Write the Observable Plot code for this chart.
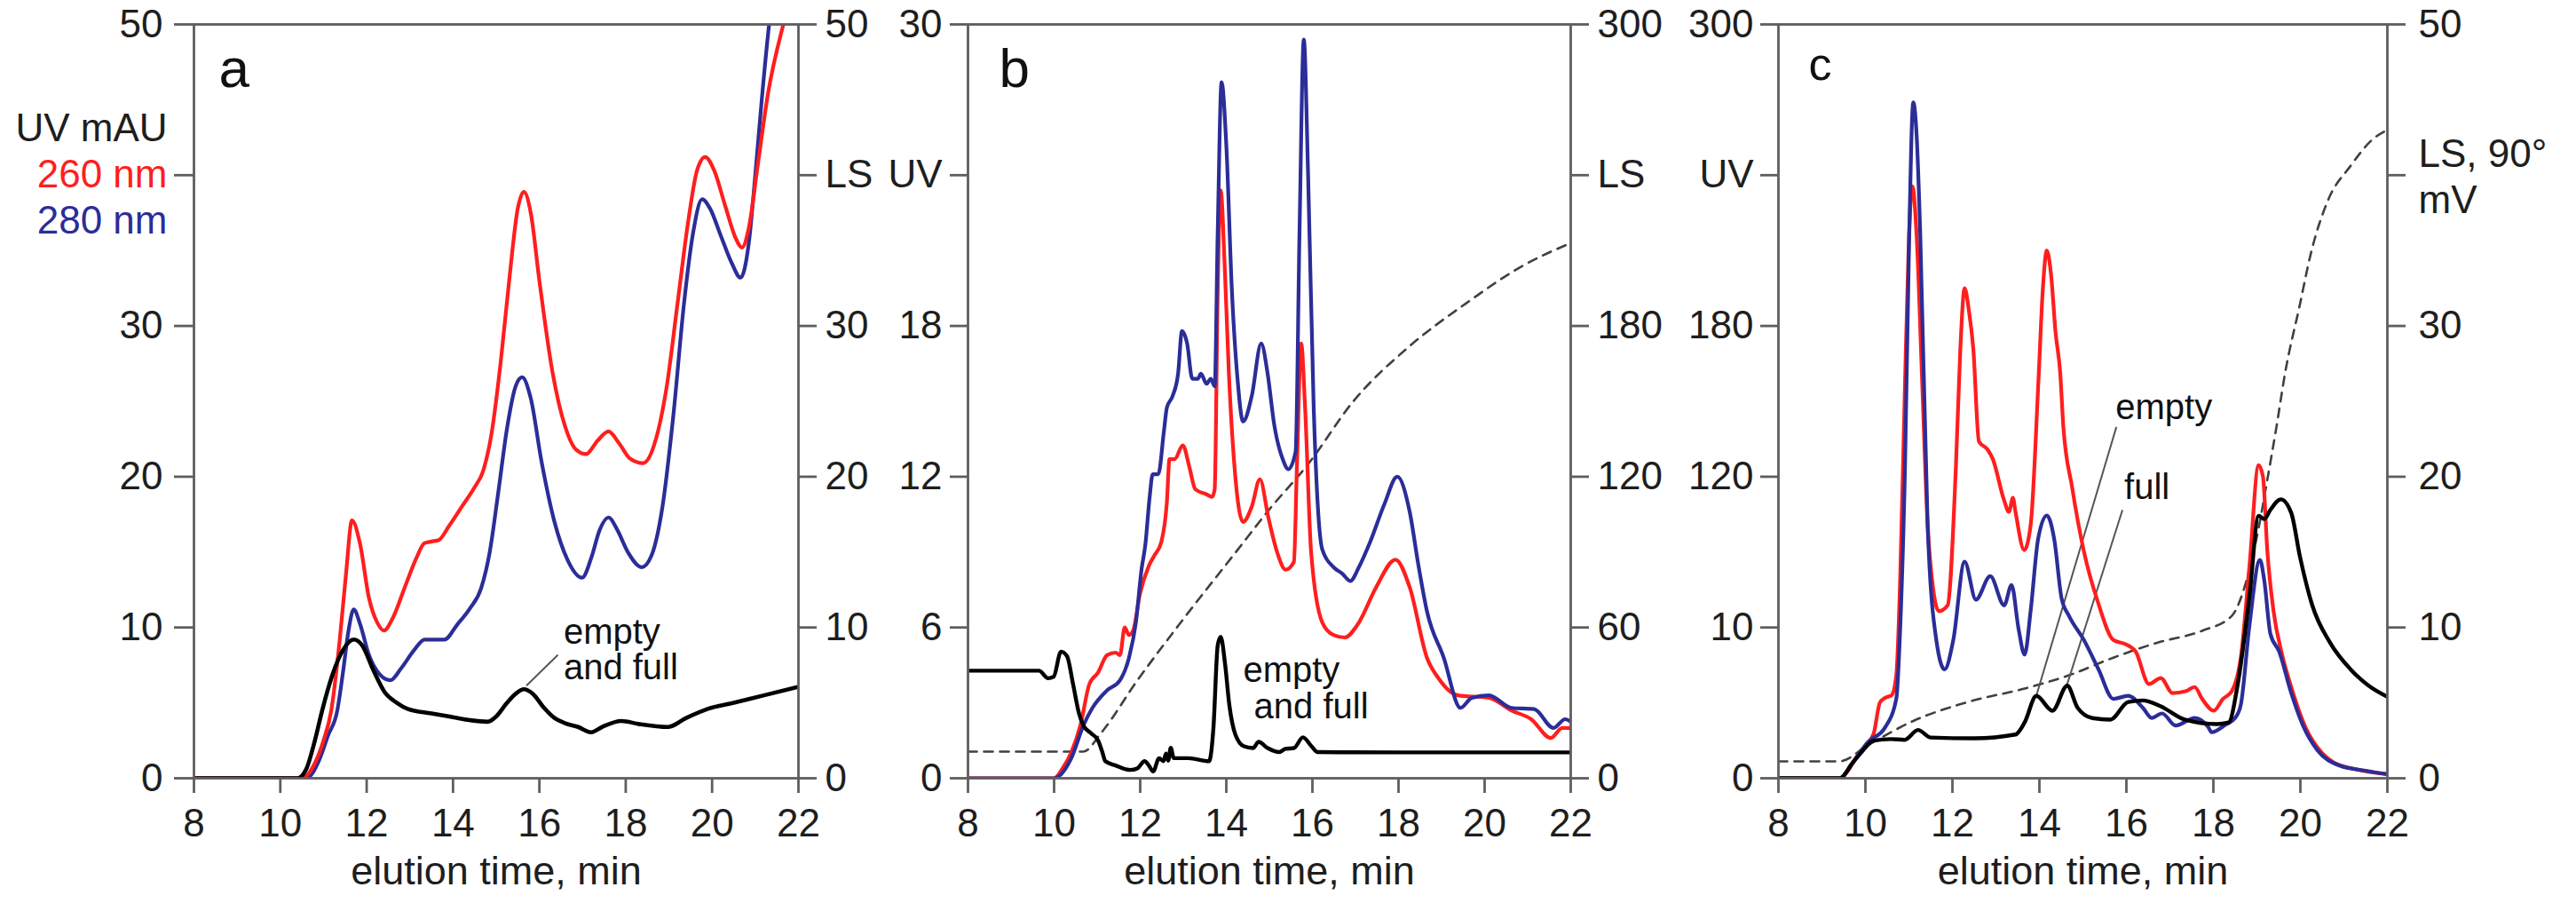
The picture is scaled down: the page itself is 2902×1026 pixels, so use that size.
<!DOCTYPE html>
<html><head><meta charset="utf-8">
<script src="https://cdn.jsdelivr.net/npm/d3@7"></script>
<script src="https://cdn.jsdelivr.net/npm/@observablehq/plot@0.6"></script>
<style>
body{margin:0;background:#fff;}
#wrap{position:relative;width:2902px;height:1026px;overflow:hidden;background:#fff;}
#wrap svg{position:absolute;top:0;}
</style></head><body><div id="wrap"></div>
<script>
// ---------- shared ticks ----------
const xTicks = [8, 10, 12, 14, 16, 18, 20, 22];

// ---------- panel a (UV mAU, LS same 0-50 scale) ----------
const aTicks = [0, 10, 20, 30, 40, 50];
const a260 = [[8,0],[10.5,0],[10.8,1],[11.0,2.5],[11.18,4.5],[11.37,9],[11.52,13.5],[11.66,17.1],[11.85,15.5],[12.05,12],[12.25,10.3],[12.4,9.8],[12.6,10.6],[12.9,12.8],[13.15,14.6],[13.34,15.6],[13.5,15.7],[13.67,15.8],[13.9,16.7],[14.2,18],[14.5,19.3],[14.7,20.4],[14.9,23],[15.1,27.5],[15.3,33],[15.5,37.8],[15.64,38.9],[15.8,37.5],[16.0,33],[16.3,27],[16.6,23.3],[16.85,21.8],[17.08,21.5],[17.35,22.4],[17.6,23],[17.85,22.2],[18.1,21.2],[18.4,20.9],[18.7,22.5],[18.95,26],[19.2,31.5],[19.45,37],[19.65,40.3],[19.84,41.2],[20.05,40.3],[20.3,38],[20.55,35.8],[20.69,35.2],[20.85,36.5],[21.05,40.5],[21.3,45.5],[21.65,50],[22,53.5]];
const a280 = [[8,0],[10.6,0],[10.9,1.2],[11.1,2.8],[11.32,4.5],[11.45,7],[11.58,9.8],[11.7,11.2],[11.85,10.2],[12.05,8.2],[12.3,6.9],[12.55,6.5],[12.8,7.3],[13.1,8.5],[13.34,9.2],[13.8,9.2],[14.1,10.2],[14.4,11.3],[14.65,12.6],[14.85,15],[15.05,19],[15.25,23.2],[15.45,26],[15.6,26.6],[15.8,25.2],[16.05,21],[16.35,17],[16.65,14.5],[16.99,13.3],[17.2,14.6],[17.4,16.5],[17.6,17.3],[17.8,16.5],[18.05,15],[18.37,14],[18.6,14.8],[18.85,18],[19.1,24],[19.35,31.5],[19.55,36],[19.77,38.4],[19.95,37.8],[20.2,36],[20.45,34.2],[20.66,33.2],[20.85,35.5],[21.0,40],[21.15,45],[21.32,50],[21.6,56]];
const aLS = [[8,0],[10.4,0],[10.6,0.6],[10.8,2.5],[10.97,4.5],[11.2,6.8],[11.45,8.5],[11.7,9.2],[11.9,8.8],[12.15,7.2],[12.42,5.7],[12.7,5],[12.95,4.6],[13.5,4.3],[14.0,4.05],[14.4,3.85],[14.8,3.75],[15.0,4.1],[15.25,5.0],[15.45,5.6],[15.64,5.9],[15.85,5.6],[16.1,4.7],[16.35,4.0],[16.6,3.65],[16.9,3.4],[17.2,3.05],[17.45,3.4],[17.9,3.8],[18.3,3.6],[18.98,3.4],[19.4,4.0],[19.9,4.6],[20.5,5.0],[21.2,5.5],[22,6.06]];
const annotA = [{t:16.56, v:8.9, label:"empty"}, {t:16.56, v:6.54, label:"and full"}];
const leaderA = [{t1:15.70, v1:6.14, t2:16.43, v2:8.19}];

// ---------- panel b (UV 0-30, LS 0-300) ----------
const bTicks = [0, 6, 12, 18, 24, 30];
const b260 = [[8,0],[10.0,0],[10.2,0.4],[10.4,1.03],[10.61,2.1],[10.82,3.75],[11.02,4.2],[11.23,4.9],[11.43,5.0],[11.53,4.9],[11.64,6.0],[11.74,5.7],[11.84,5.9],[11.99,7.3],[12.2,8.45],[12.33,8.87],[12.49,9.4],[12.62,11],[12.68,12.7],[12.8,12.7],[12.99,13.25],[13.14,12.4],[13.28,11.5],[13.54,11.3],[13.67,11.2],[13.73,11.5],[13.8,19.4],[13.87,23.4],[13.96,20.5],[14.06,16.1],[14.19,12.4],[14.39,10.2],[14.59,10.8],[14.78,11.9],[14.98,10.35],[15.18,9.0],[15.38,8.3],[15.57,8.6],[15.64,12.4],[15.74,17.3],[15.83,14.75],[15.97,9.0],[16.23,6.2],[16.49,5.7],[16.75,5.6],[17.08,6.2],[17.48,7.6],[17.93,8.7],[18.26,7.6],[18.66,4.8],[18.92,4.0],[19.38,3.3],[20.1,3.2],[20.62,2.7],[21.08,2.35],[21.54,1.6],[21.8,2.0],[22,2.0]];
const b280 = [[8,0],[10.0,0],[10.4,0.8],[10.68,2.1],[10.89,2.8],[11.23,3.5],[11.53,3.9],[11.74,4.8],[11.9,6.2],[12.03,8.3],[12.12,9.3],[12.22,11.2],[12.29,12.1],[12.42,12.1],[12.55,13.8],[12.62,14.75],[12.75,15.2],[12.88,16.1],[12.97,17.8],[13.09,17.3],[13.21,15.9],[13.34,15.9],[13.41,16.1],[13.54,15.7],[13.64,15.9],[13.73,15.6],[13.8,21.7],[13.89,27.7],[14.0,25.2],[14.13,19.4],[14.26,15.9],[14.39,14.2],[14.59,15.2],[14.81,17.3],[14.96,16.1],[15.11,14.1],[15.31,12.7],[15.44,12.3],[15.61,13],[15.7,21.7],[15.8,29.4],[15.9,24],[16.03,14.75],[16.23,9.1],[16.49,8.4],[16.69,8.15],[16.88,7.85],[17.08,8.4],[17.34,9.4],[17.67,10.9],[17.97,12.0],[18.26,10.6],[18.46,8.5],[18.66,6.65],[19.05,4.8],[19.44,2.8],[19.7,3.2],[20.1,3.3],[20.62,2.8],[21.15,2.75],[21.6,2.0],[21.87,2.35],[22,2.25]];
const bLS = [[8,42.8],[9.65,42.8],[9.86,39.8],[9.99,40.4],[10.16,50.4],[10.3,48.6],[10.44,37.5],[10.58,25.7],[10.68,21],[10.85,18],[11.02,15.1],[11.12,10.4],[11.19,6.8],[11.43,5.1],[11.77,3.3],[11.94,4],[12.1,6.8],[12.2,5.1],[12.3,2.7],[12.44,8],[12.54,6.8],[12.6,9.8],[12.65,7],[12.71,12.1],[12.78,8],[13.12,8],[13.6,6.8],[13.7,19.8],[13.8,52.8],[13.87,56.3],[13.97,45.7],[14.07,29.2],[14.21,17.4],[14.41,12.7],[14.62,12],[14.75,14.5],[14.96,12],[15.23,10.4],[15.37,11.7],[15.57,12],[15.78,16.3],[15.98,12.7],[16.12,10.4],[18,10.3],[22,10.3]];
const bLSdash = [[8,10.6],[10.68,10.6],[11.09,18],[11.92,38.6],[12.95,62.2],[14.19,89.3],[15.0,107],[15.9,125],[16.95,150],[18.26,172],[19.57,189],[20.89,204],[22,213]];
const annotB = [{t:14.39, v:3.82, label:"empty"}, {t:14.64, v:2.4, label:"and full"}];

// ---------- panel c (UV 0-300, LS 0-50) ----------
const cTicks = [0, 60, 120, 180, 240, 300];
const c260 = [[8,0],[9.41,0],[9.6,3],[9.8,8.6],[10.0,13],[10.19,17.8],[10.33,30],[10.45,32],[10.6,33],[10.71,41],[10.8,80],[10.9,150],[11.0,215],[11.08,235.6],[11.18,215],[11.3,160],[11.43,101],[11.56,75],[11.69,66.5],[11.89,68.8],[12.08,124],[12.18,170],[12.28,195],[12.38,186],[12.48,171],[12.61,134],[12.8,131],[12.93,127],[13.19,110.5],[13.3,106],[13.39,111.6],[13.45,106],[13.65,90.8],[13.8,101],[13.98,159],[14.08,195],[14.17,210],[14.27,200],[14.37,177.7],[14.48,161],[14.55,140],[14.75,116],[15.02,90.5],[15.36,69.3],[15.7,55],[15.97,53.4],[16.21,50.5],[16.52,37.5],[16.79,39.9],[17.06,33.9],[17.36,34.6],[17.57,36.3],[17.74,31.6],[18.01,26.9],[18.22,31.6],[18.42,34.6],[18.63,48],[18.83,84.6],[19.04,124.6],[19.14,120],[19.24,90.5],[19.38,66.9],[19.58,49.2],[19.79,36.3],[20.13,19.8],[20.5,10],[20.76,6.3],[21.3,3.5],[22,1.6]];
const c280 = [[8,0],[9.41,0],[9.7,6],[10.06,14.4],[10.45,20.2],[10.71,31.7],[10.8,60],[10.91,124],[11.0,210],[11.1,269],[11.18,255],[11.26,217],[11.43,101],[11.63,55],[11.82,43.3],[12.02,55],[12.28,86.2],[12.54,71.1],[12.87,80.4],[13.19,68.8],[13.36,76.9],[13.52,59.5],[13.66,49.2],[13.8,66.9],[13.97,95.2],[14.17,104.6],[14.34,95.2],[14.51,71.6],[14.68,64.6],[15.02,55.1],[15.36,43.3],[15.7,31.6],[16.04,32.8],[16.38,28],[16.58,24],[16.82,25.8],[17.13,21],[17.57,24],[17.88,20.4],[17.96,18.3],[18.28,21.3],[18.5,24],[18.63,29.2],[18.83,61],[19.07,86.9],[19.17,78.7],[19.31,57.5],[19.51,50.5],[19.79,33.9],[20.06,21],[20.4,11],[20.89,5.1],[21.5,3],[22,1.6]];
const cLS = [[8,0],[9.41,0],[9.7,1.0],[9.93,1.8],[10.19,2.5],[10.58,2.6],[10.9,2.55],[11.21,3.2],[11.5,2.7],[12.5,2.65],[13.45,2.9],[13.66,3.7],[13.93,5.46],[14.3,4.48],[14.64,6.14],[14.88,4.67],[15.22,3.99],[15.63,3.89],[16.04,5.06],[16.38,5.16],[16.79,4.77],[17.34,3.89],[18.08,3.59],[18.35,3.7],[18.56,6.24],[18.83,12.1],[19.04,17.4],[19.17,17.2],[19.31,17.8],[19.55,18.5],[19.79,17.6],[19.99,14.7],[20.27,11.5],[20.68,9.0],[21.16,7.2],[21.57,6.14],[22,5.4]];
const cLSdash = [[8,1.12],[9.4,1.12],[10.06,2.2],[11.1,3.8],[12.41,5.1],[13.66,5.95],[14.68,6.83],[15.7,8.0],[16.72,9.0],[17.74,9.78],[18.42,10.76],[18.76,13.1],[19.04,16.6],[19.24,19.8],[19.45,23.3],[19.65,26.9],[19.98,31.3],[20.24,34.8],[20.63,38.3],[21.15,40.6],[21.67,42.4],[22,43]];
const annotC = [{t:15.75, v:142.8, label:"empty"}, {t:15.95, v:111, label:"full"}];
const leaderC = [{t1:15.77, ls1:23.3, t2:13.93, ls2:5.48}, {t1:15.91, ls1:17.8, t2:14.62, ls2:6.07}];

// ---------- styling ----------
const FONT = "'Liberation Sans', Arial, Helvetica, sans-serif";
const RED = "#ff1e1e", BLUE = "#2b2d98", AXIS = "#5e5e5e", INK = "#1e1e1e", DASH = "#404040";
const pts = arr => arr.map(([t, v]) => ({t, v}));
const wrap = document.getElementById("wrap");

function line(arr, stroke, extra = {}) {
  return Plot.line(pts(arr), {x: "t", y: "v", stroke, strokeWidth: 4.2, curve: "monotone-x", clip: true, strokeLinejoin: "round", ...extra});
}

function panel({left, width, ml, mr, yMax, yTicks, leftFmt, rightFmt, lPad, rPad, lSize, marks}) {
  const chart = Plot.plot({
    width, height: 1026,
    marginTop: 27, marginBottom: 150, marginLeft: ml, marginRight: mr,
    x: {domain: [8, 22], label: null},
    y: {domain: [0, yMax], label: null},
    style: {fontFamily: FONT, color: INK, background: "transparent", overflow: "visible"},
    marks: [
      ...marks,
      Plot.frame({stroke: AXIS, strokeWidth: 2.8}),
      Plot.axisX({ticks: xTicks, tickSize: 17, tickPadding: 17, fontSize: 44, stroke: AXIS, strokeWidth: 2.8, label: null}),
      Plot.axisY({anchor: "left", ticks: yTicks, tickSize: lSize, tickPadding: lPad, tickFormat: leftFmt, fontSize: 44, stroke: AXIS, strokeWidth: 2.8, label: null}),
      Plot.axisY({anchor: "right", ticks: yTicks, tickSize: 20, tickPadding: rPad, tickFormat: rightFmt, fontSize: 44, stroke: AXIS, strokeWidth: 2.8, label: null}),
      Plot.text(["elution time, min"], {frameAnchor: "bottom", dy: 119, lineAnchor: "bottom", fontSize: 45})
    ]
  });
  chart.style.left = left + "px";
  wrap.appendChild(chart);
}

// panel a
panel({
  left: 0, width: 1000, ml: 218, mr: 101, yMax: 50, yTicks: aTicks,
  leftFmt: d => d === 40 ? "" : d, rightFmt: d => d === 40 ? "LS" : d,
  lSize: 22, lPad: 13, rPad: 10,
  marks: [
    line(a280, BLUE), line(a260, RED), line(aLS, "#000", {strokeWidth: 4.6}),
    Plot.link(leaderA, {x1: "t1", y1: "v1", x2: "t2", y2: "v2", stroke: "#555", strokeWidth: 2}),
    Plot.text(annotA, {x: "t", y: "v", text: "label", textAnchor: "start", lineAnchor: "bottom", fontSize: 40, fill: "#111"}),
    Plot.text(["UV mAU"], {x: 8, y: 43.06, dx: -30, textAnchor: "end", lineAnchor: "middle", fontSize: 44, fill: INK}),
    Plot.text(["260 nm"], {x: 8, y: 40, dx: -30, textAnchor: "end", lineAnchor: "middle", fontSize: 44, fill: RED}),
    Plot.text(["280 nm"], {x: 8, y: 36.94, dx: -30, textAnchor: "end", lineAnchor: "middle", fontSize: 44, fill: BLUE}),
    Plot.text(["a"], {frameAnchor: "top-left", dx: 28, dy: 70, textAnchor: "start", lineAnchor: "bottom", fontSize: 62, fill: "#111"})
  ]
});

// panel b
panel({
  left: 950, width: 1000, ml: 140, mr: 181, yMax: 30, yTicks: bTicks,
  leftFmt: d => d === 24 ? "UV" : d, rightFmt: d => d === 24 ? "LS" : d * 10,
  lSize: 20, lPad: 9, rPad: 10,
  marks: [
    Plot.line(pts(bLSdash), {x: "t", y: d => d.v / 10, stroke: DASH, strokeWidth: 2.6, strokeDasharray: "10,8", curve: "monotone-x", clip: true}),
    line(b260, RED), line(b280, BLUE),
    Plot.line(pts(bLS), {x: "t", y: d => d.v / 10, stroke: "#000", strokeWidth: 4.4, curve: "monotone-x", clip: true, strokeLinejoin: "round"}),
    Plot.text(annotB, {x: "t", y: "v", text: "label", textAnchor: "start", lineAnchor: "bottom", fontSize: 40, fill: "#111"}),
    Plot.text(["b"], {frameAnchor: "top-left", dx: 35, dy: 70, textAnchor: "start", lineAnchor: "bottom", fontSize: 62, fill: "#111"})
  ]
});

// panel c
panel({
  left: 1900, width: 1002, ml: 103, mr: 213, yMax: 300, yTicks: cTicks,
  leftFmt: d => ({0: "0", 60: "10", 120: "120", 180: "180", 240: "UV", 300: "300"})[d],
  rightFmt: d => d === 240 ? "" : d / 6,
  lSize: 20, lPad: 8, rPad: 15,
  marks: [
    Plot.line(pts(cLSdash), {x: "t", y: d => d.v * 6, stroke: DASH, strokeWidth: 2.6, strokeDasharray: "10,8", curve: "monotone-x", clip: true}),
    Plot.link(leaderC, {x1: "t1", y1: d => d.ls1 * 6, x2: "t2", y2: d => d.ls2 * 6, stroke: "#555", strokeWidth: 2}),
    line(c260, RED), line(c280, BLUE),
    Plot.line(pts(cLS), {x: "t", y: d => d.v * 6, stroke: "#000", strokeWidth: 4.4, curve: "monotone-x", clip: true, strokeLinejoin: "round"}),
    Plot.text(annotC, {x: "t", y: "v", text: "label", textAnchor: "start", lineAnchor: "bottom", fontSize: 40, fill: "#111"}),
    Plot.text(["LS, 90°\nmV"], {x: 22, y: 240, dx: 35, textAnchor: "start", lineAnchor: "middle", lineHeight: 1.18, fontSize: 44, fill: INK}),
    Plot.text(["c"], {frameAnchor: "top-left", dx: 34, dy: 62, textAnchor: "start", lineAnchor: "bottom", fontSize: 52, fill: "#111"})
  ]
});
</script></body></html>
